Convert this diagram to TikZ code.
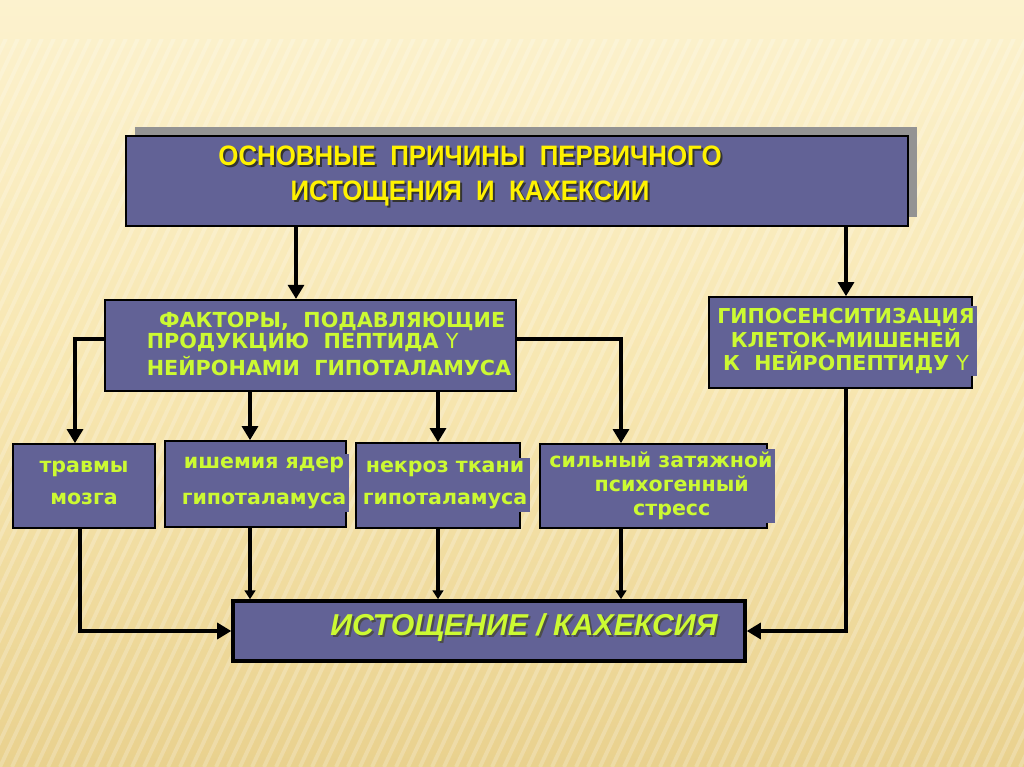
\documentclass[tikz,border=0pt]{standalone}
\usepackage{fontspec}
\setmainfont{Liberation Sans}
\newfontfamily\narrowfont[FakeStretch=0.92]{Liberation Sans}
\newfontfamily\widefont{DejaVu Sans}
\usetikzlibrary{arrows.meta,shadows}
\definecolor{boxblue}{RGB}{98,98,150}
\definecolor{limetext}{RGB}{204,250,50}
\definecolor{paperhi}{RGB}{252,242,206}
\definecolor{papermid}{RGB}{247,230,176}
\definecolor{paperlo}{RGB}{233,209,142}
\tikzset{
  box/.style={draw=black,line width=0.9pt,fill=boxblue,inner sep=0pt},
  txt/.style={text=limetext,font=\widefont\bfseries,align=center,inner sep=1.5pt,fill=boxblue},
  ttl/.style={font=\narrowfont\bfseries\fontsize{16}{20}\selectfont,align=center,inner sep=0pt},
  conn/.style={line width=2.1pt,-{Triangle[width=9pt,length=8pt]}},
  connsm/.style={line width=1.9pt,-{Triangle[width=6pt,length=5pt]}}
}
\begin{document}
\begin{tikzpicture}[x=0.02cm,y=-0.02cm]
  \useasboundingbox (0,0) rectangle (1024,767);
  % paper background
  \shade[top color=paperhi,bottom color=paperlo,middle color=papermid] (0,0) rectangle (1024,767);
  \begin{scope}
    \clip (0,40) rectangle (1024,767);
    \foreach \x in {-360,-348,...,1024}
      \draw[white,line width=2.2pt,opacity=0.22] (\x,767) -- (\x+360,0);
  \end{scope}

  % boxes
  \node[box,minimum width=15.64cm,minimum height=1.8cm,
    drop shadow={shadow xshift=0.18cm,shadow yshift=0.18cm,fill=gray!85,opacity=1}] (top) at (517,181) {};
  \node[ttl,text=black!80] (topS) at (472,178) {ОСНОВНЫЕ \ ПРИЧИНЫ \ ПЕРВИЧНОГО\\ИСТОЩЕНИЯ \ И \ КАХЕКСИИ};
  \node[ttl,text=yellow] (topT) at (470,176) {ОСНОВНЫЕ \ ПРИЧИНЫ \ ПЕРВИЧНОГО\\ИСТОЩЕНИЯ \ И \ КАХЕКСИИ};

  \node[box,line width=1.2pt,minimum width=8.22cm,minimum height=1.82cm] (fac) at (310.5,345.5) {};
  \node[txt,align=left,font=\widefont\bfseries\fontsize{11.8}{12}\selectfont] (facT) at (329,344)
    {\hspace{7pt}ФАКТОРЫ, \ ПОДАВЛЯЮЩИЕ\\ПРОДУКЦИЮ \ ПЕПТИДА {\mdseries Y}\\[1.5pt]НЕЙРОНАМИ \ ГИПОТАЛАМУСА};

  \node[box,minimum width=5.26cm,minimum height=1.82cm] (hyp) at (840.5,342.5) {};
  \node[txt,font=\widefont\bfseries\fontsize{11.7}{12.6}\selectfont] (hypT) at (846,341)
    {ГИПОСЕНСИТИЗАЦИЯ\\КЛЕТОК-МИШЕНЕЙ\\К \ НЕЙРОПЕПТИДУ {\mdseries Y}};

  \node[box,minimum width=2.84cm,minimum height=1.68cm] (tra) at (84,486) {};
  \node[txt,font=\widefont\bfseries\fontsize{11.7}{18}\selectfont] (traT) at (84,483) {травмы\\мозга};
  \node[box,minimum width=3.62cm,minimum height=1.72cm] (isc) at (255.5,484) {};
  \node[txt,font=\widefont\bfseries\fontsize{11.7}{20.5}\selectfont] (iscT) at (264,483) {ишемия ядер\\гипоталамуса};
  \node[box,minimum width=3.28cm,minimum height=1.7cm] (nec) at (438,485.5) {};
  \node[txt,font=\widefont\bfseries\fontsize{11.7}{18.5}\selectfont] (necT) at (445,485) {некроз ткани\\гипоталамуса};
  \node[box,minimum width=4.54cm,minimum height=1.68cm] (str) at (653.5,486) {};
  \node[txt,font=\widefont\bfseries\fontsize{11.7}{13.6}\selectfont] (strT) at (661,486) {сильный затяжной\\\ \ \ психогенный\\\ \ \ стресс};

  \node[box,line width=2pt,minimum width=10.24cm,minimum height=1.2cm] (res) at (489,631) {};
  \node[font=\bfseries\itshape\fontsize{17.2}{18}\selectfont,text=black!70,inner sep=0pt] (resS) at (526,630) {ИСТОЩЕНИЕ / КАХЕКСИЯ};
  \node[font=\bfseries\itshape\fontsize{17.2}{18}\selectfont,text=limetext,inner sep=0pt] (resT) at (524,628) {ИСТОЩЕНИЕ / КАХЕКСИЯ};

  % arrow columns
  \coordinate (colA) at (296,0);
  \coordinate (colB) at (846,0);
  \coordinate (colL) at (75,339);
  \coordinate (colT) at (80,0);
  \foreach \x in {250,438,621} \coordinate (col\x) at (\x,0);

  % connectors
  \draw[conn] (top.south -| colA) -- (fac.north -| colA);
  \draw[conn] (top.south -| colB) -- (hyp.north -| colB);
  \draw[conn] (fac.west |- colL) -| (tra.north -| colL);
  \draw[conn] (fac.east |- colL) -| (str.north -| col621);
  \foreach \b/\c in {isc/250,nec/438} \draw[conn] (fac.south -| col\c) -- (\b.north -| col\c);
  \foreach \b/\c in {isc/250,nec/438,str/621} \draw[connsm] (\b.south -| col\c) -- (res.north -| col\c);
  \draw[conn] (tra.south -| colT) |- (res.west);
  \draw[conn] (hyp.south -| colB) |- (res.east);
\end{tikzpicture}
\end{document}
